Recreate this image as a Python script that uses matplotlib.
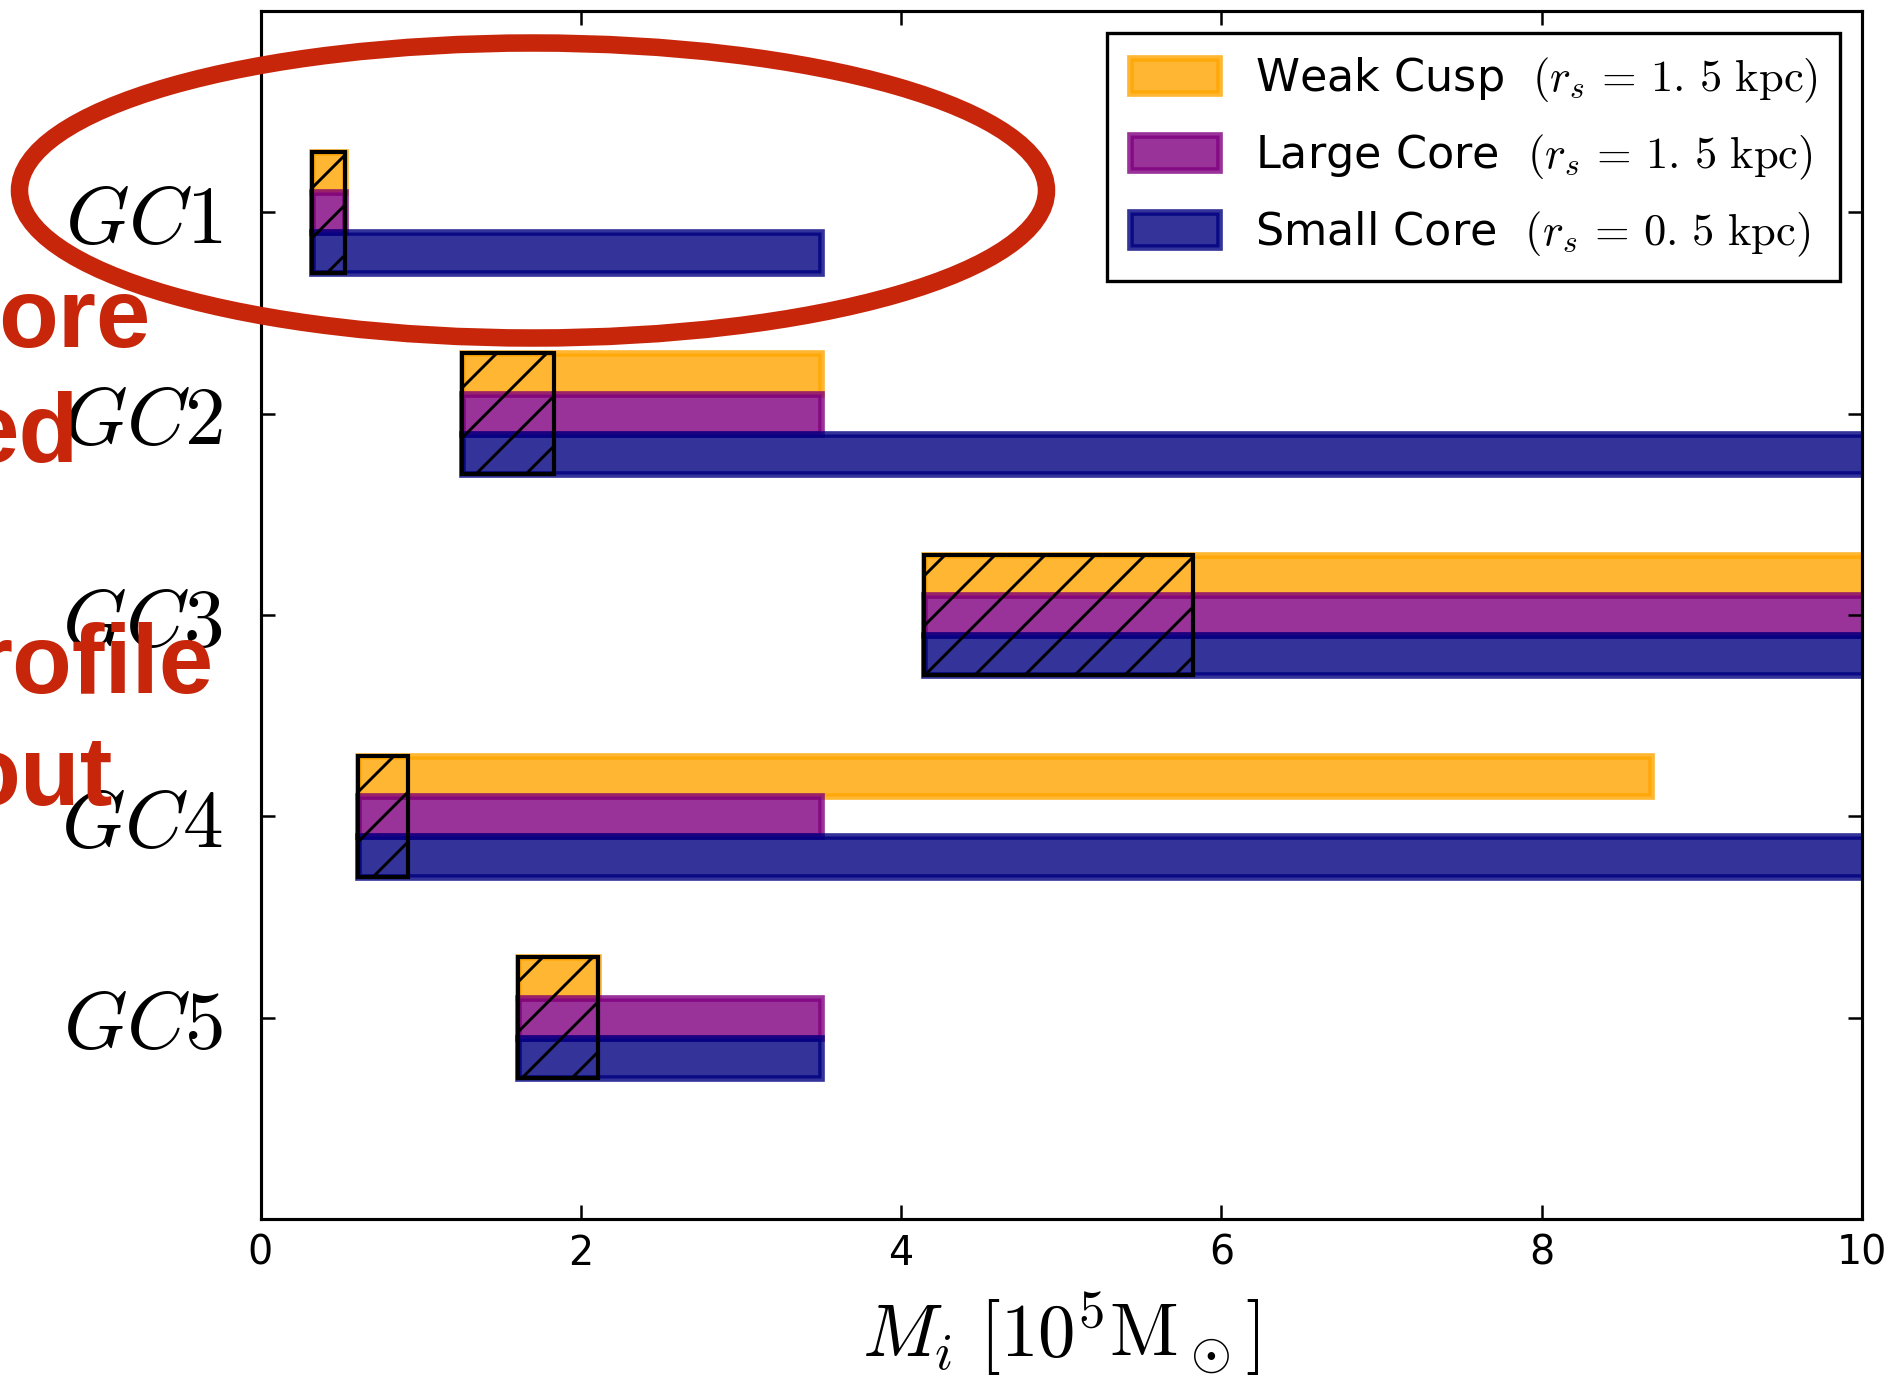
import matplotlib
matplotlib.use("Agg")
import matplotlib.pyplot as plt
from matplotlib.patches import Ellipse, Rectangle
import numpy as np

# ---------------- data ----------------
clusters = ["$GC1$", "$GC2$", "$GC3$", "$GC4$", "$GC5$"]
models = [r"Weak Cusp  $(r_s\,=\,1.\,5\ \mathrm{kpc})$",
          r"Large Core  $(r_s\,=\,1.\,5\ \mathrm{kpc})$",
          r"Small Core  $(r_s\,=\,0.\,5\ \mathrm{kpc})$"]
colors = ["orange", "purple", "navy"]

lower = [0.32, 1.26, 4.14, 0.61, 1.61]          # common lower mass bound per GC
upper_weak_cusp = [0.53, 3.50, 10.5, 8.68, 2.11]
upper_large_core = [0.53, 3.50, 10.5, 3.50, 3.50]
upper_small_core = [3.50, 10.5, 10.5, 10.5, 3.50]
hatch_lo = [0.32, 1.26, 4.14, 0.61, 1.61]
hatch_hi = [0.53, 1.83, 5.82, 0.92, 2.11]

xticks = [0, 2, 4, 6, 8, 10]

annot_words = ["ore", "ed", "rofile", "out"]

# ---------------- figure ----------------
plt.rcParams["mathtext.fontset"] = "cm"
plt.rcParams["hatch.linewidth"] = 0.7
plt.rcParams["font.family"] = ["DejaVu Sans"]

DPI = 300
fig = plt.figure(figsize=(1891 / DPI, 1381 / DPI), dpi=DPI)
ax = fig.add_axes([260.5 / 1891, 1 - 1219 / 1381, (1862 - 260.5) / 1891, (1219 - 11) / 1381])

ypos = np.array([5, 4, 3, 2, 1], dtype=float)
offsets = [0.2, 0.0, -0.2]
uppers = [upper_weak_cusp, upper_large_core, upper_small_core]
lo = np.array(lower)
for k in range(3):
    hi = np.array(uppers[k])
    ax.barh(ypos + offsets[k], hi - lo, left=lo, height=0.2, color=colors[k],
            edgecolor=colors[k], alpha=0.8, linewidth=1.6, label=models[k])

for i in range(len(clusters)):
    ax.add_patch(Rectangle((hatch_lo[i], ypos[i] - 0.3), hatch_hi[i] - hatch_lo[i], 0.6,
                           fill=False, edgecolor="black", hatch="//", linewidth=1.0))

ax.set_xlim(0, 10)
ax.set_ylim(0, 6)
ax.set_xticks(xticks)
ax.set_xticklabels([str(t) for t in xticks], fontsize=9.5)
ax.set_yticks(ypos)
ax.set_yticklabels(clusters, fontsize=19.5)
ax.tick_params(direction="in", top=True, right=True, length=3.4, width=0.6)
ax.tick_params(axis="x", pad=3.5)
ax.tick_params(axis="y", pad=9)
for s in ax.spines.values():
    s.set_linewidth(0.75)

ax.set_xlabel(r"$M_i\ [10^5\mathrm{M}_\odot]$", fontsize=18, labelpad=4)

leg = ax.legend(loc="upper right", fontsize=10.7, fancybox=False, framealpha=1,
                edgecolor="black", handlelength=2.0, handleheight=0.83,
                handletextpad=0.8, labelspacing=0.62, borderpad=0.5)
leg.get_frame().set_linewidth(0.8)

# ---------------- slide overlay ----------------
red = "#C7260B"
annot_right = [150, 78, 214, 112]
annot_base = [347, 462, 693, 805]
for w, xr, yb in zip(annot_words, annot_right, annot_base):
    fig.text(xr / 1891, 1 - yb / 1381, w, ha="right", va="baseline", color=red,
             fontsize=23.5, fontweight="bold", family="Liberation Sans", zorder=10)

fig.add_artist(Ellipse((533 / 1891, 1 - 190.5 / 1381), 1027 / 1891, 295 / 1381,
                       transform=fig.transFigure, fill=False, edgecolor=red,
                       linewidth=4.2, zorder=11))

fig.savefig("out.png", dpi=DPI)
